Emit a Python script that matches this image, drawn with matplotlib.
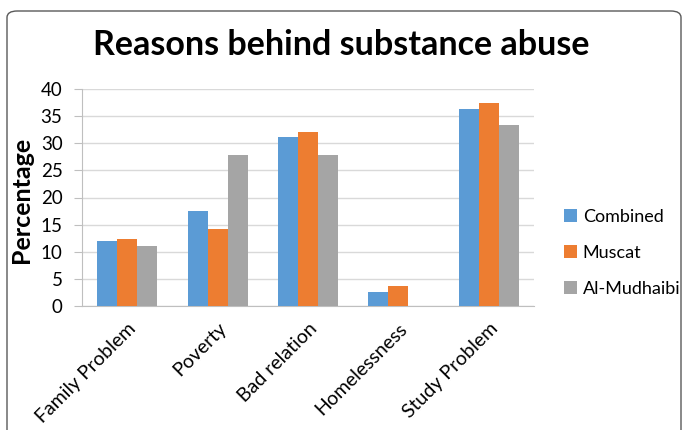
import matplotlib
matplotlib.use("Agg")
import matplotlib.pyplot as plt
import numpy as np
from matplotlib.patches import FancyBboxPatch

plt.rcParams['font.family'] = ['Lato', 'DejaVu Sans']

categories = ["Family Problem", "Poverty", "Bad relation", "Homelessness", "Study Problem"]
series_names = ["Combined", "Muscat", "Al-Mudhaibi"]
combined = [12.0, 17.5, 31.2, 2.6, 36.4]
muscat = [12.4, 14.2, 32.1, 3.6, 37.4]
mudhaibi = [11.1, 27.8, 27.8, 0.0, 33.3]
colors = ["#5B9BD5", "#ED7D31", "#A5A5A5"]
yticks = [0, 5, 10, 15, 20, 25, 30, 35, 40]

W, H = 683, 430
fig = plt.figure(figsize=(W / 100, H / 100), dpi=100)

# outer rounded border
border = FancyBboxPatch((7 / W, (H - 440) / H), (681 - 7) / W, (440 - 11) / H,
                        boxstyle="round,pad=0,rounding_size=0.015",
                        transform=fig.transFigure, facecolor="none",
                        edgecolor="#595959", linewidth=1.0, zorder=-1)
fig.patches.append(border)

ax = fig.add_axes([82 / W, (H - 306) / H, 452 / W, 217 / H])
ax.set_facecolor("none")

x = np.arange(len(categories))
bw = 0.221
for i, (vals, name) in enumerate(zip([combined, muscat, mudhaibi], series_names)):
    ax.bar(x + (i - 1) * bw, vals, width=bw, color=colors[i], label=name, zorder=3)

ax.set_xlim(-0.5, len(categories) - 0.5)
ax.set_ylim(0, 40)
ax.set_yticks(yticks)
ax.set_yticklabels([str(v) for v in yticks], fontsize=13.5)
ax.set_xticks(x)
ax.set_xticklabels(categories, rotation=45, ha="right", va="top",
                   rotation_mode="anchor", fontsize=14)
ax.tick_params(axis="x", length=0, pad=10)
ax.tick_params(axis="y", length=6, color="#BFBFBF", width=0.8, pad=8)
ax.grid(axis="y", color="#D9D9D9", linewidth=1.0, zorder=0)
for s in ["top", "right"]:
    ax.spines[s].set_visible(False)
ax.spines["left"].set_color("#BFBFBF")
ax.spines["bottom"].set_color("#BFBFBF")
ax.spines["left"].set_linewidth(0.8)
ax.spines["bottom"].set_linewidth(0.8)

ax.set_ylabel("Percentage", fontsize=18, fontweight="bold")
ax.yaxis.set_label_coords(33 / W, (H - 200) / H, transform=fig.transFigure)

fig.text(341 / W, (H - 45) / H, "Reasons behind substance abuse",
         fontsize=24.5, fontweight="bold", ha="center", va="center")

leg = ax.legend(loc="center left", bbox_to_anchor=(557 / W, (H - 253) / H),
                bbox_transform=fig.transFigure, frameon=False, fontsize=13,
                handlelength=0.72, handleheight=0.72, handletextpad=0.3,
                labelspacing=1.12, borderaxespad=0)

fig.savefig("out.png", dpi=100)
